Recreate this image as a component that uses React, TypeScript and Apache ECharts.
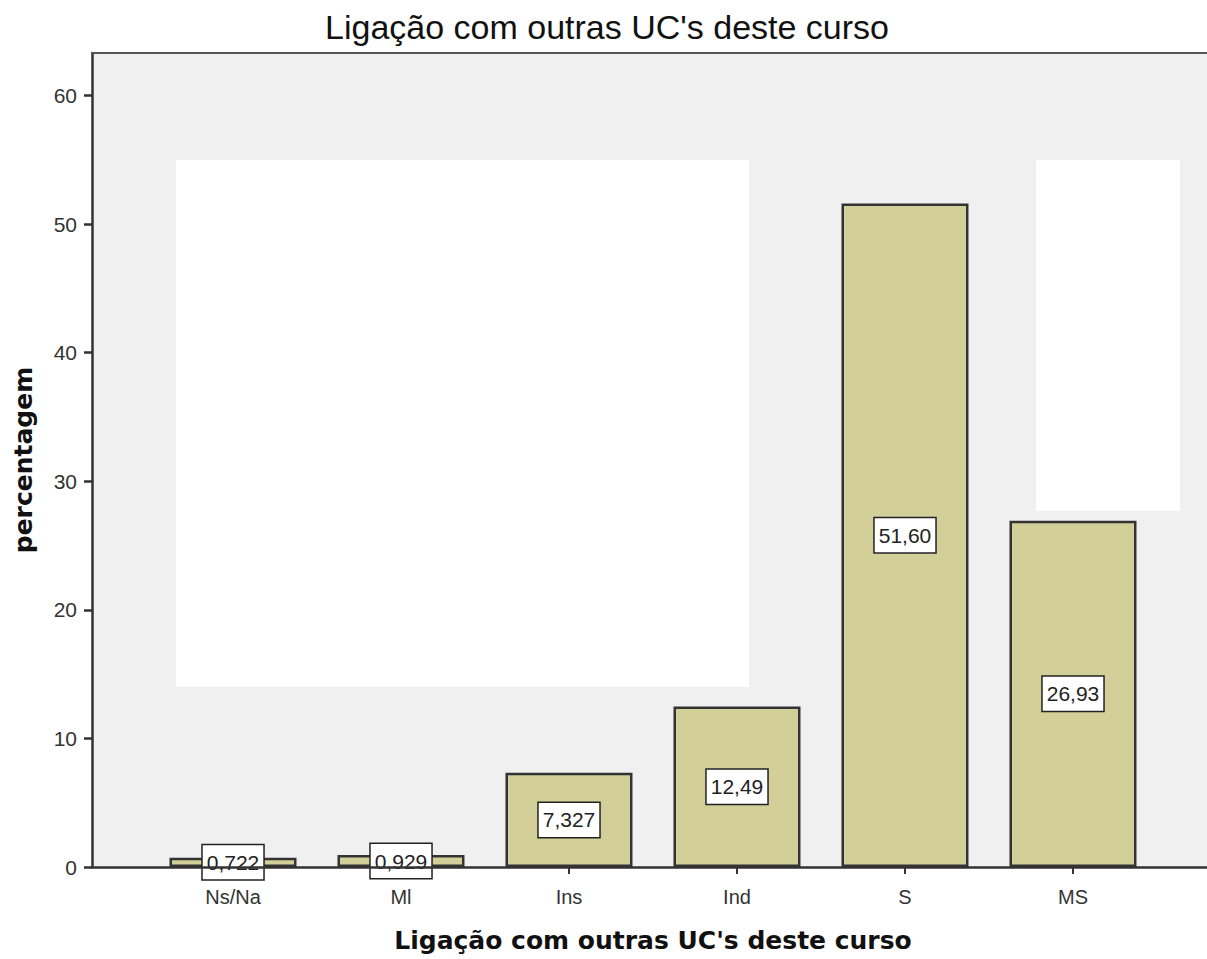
import React, { useEffect, useRef } from "react";
import * as echarts from "echarts";

const categories = ["Ns/Na", "Ml", "Ins", "Ind", "S", "MS"];
const values = [0.722, 0.929, 7.327, 12.49, 51.6, 26.93];
const valueLabels = ["0,722", "0,929", "7,327", "12,49", "51,60", "26,93"];
const yTicks = [0, 10, 20, 30, 40, 50, 60];
const titleText = "Ligação com outras UC's deste curso";
const xName = "Ligação com outras UC's deste curso";
const yName = "percentagem";

export default function App() {
  const ref = useRef<HTMLDivElement>(null);
  useEffect(() => {
    document.body.style.margin = "0";
    const chart = echarts.init(ref.current!, null, { renderer: "svg" });
    const yMax = 63.3;
    chart.setOption({
      animation: false,
      backgroundColor: "#ffffff",
      title: {
        text: titleText,
        left: 602,
        textAlign: "center",
        top: 5,
        textStyle: { fontFamily: "Liberation Sans, Arial", fontWeight: "normal", fontSize: 34, color: "#111" },
      },
      graphic: [
        { type: "rect", z: -20, shape: { x: 92, y: 53, width: 1115, height: 814 }, style: { fill: "#f0f0f0" }, silent: true },
        { type: "rect", z: -10, shape: { x: 176, y: 160, width: 573, height: 527 }, style: { fill: "#ffffff" }, silent: true },
        { type: "rect", z: -10, shape: { x: 1036, y: 160, width: 144, height: 351 }, style: { fill: "#ffffff" }, silent: true },
        { type: "line", z: 10, shape: { x1: 91, y1: 53, x2: 1207, y2: 53 }, style: { stroke: "#555", lineWidth: 2 }, silent: true },
      ],
      grid: [
        { left: 92, right: 0, top: 53, bottom: 92, outerBoundsMode: "none", containLabel: false },
        { left: 149, right: 50, top: 53, bottom: 92, outerBoundsMode: "none", containLabel: false },
      ],
      xAxis: [
        {
          gridIndex: 0,
          type: "value",
          min: 0,
          max: 1,
          z: 5,
          axisLine: { show: true, lineStyle: { color: "#333", width: 2.5 } },
          axisTick: { show: false },
          axisLabel: { show: false },
          splitLine: { show: false },
        },
        {
          gridIndex: 1,
          type: "category",
          data: categories,
          name: xName,
          nameLocation: "middle",
          nameGap: 61,
          nameMoveOverlap: false,
          nameTextStyle: { fontFamily: "DejaVu Sans", fontWeight: "bold", fontSize: 25, color: "#111" },
          axisLine: { show: false },
          axisTick: { show: true, alignWithLabel: true, length: 7, lineStyle: { color: "#333", width: 2 } },
          axisLabel: { fontFamily: "Liberation Sans, Arial", fontSize: 20, color: "#333", margin: 20 },
        },
      ],
      yAxis: [
        {
          gridIndex: 0,
          type: "value",
          min: 0,
          max: yMax,
          z: 5,
          name: yName,
          nameLocation: "middle",
          nameGap: 56,
          nameMoveOverlap: false,
          nameTextStyle: { fontFamily: "DejaVu Sans", fontWeight: "bold", fontSize: 25, color: "#111" },
          axisLine: { show: true, lineStyle: { color: "#333", width: 2.5 } },
          axisTick: { show: true, length: 8, lineStyle: { color: "#333", width: 2.5 }, customValues: yTicks },
          axisLabel: { fontFamily: "Liberation Sans, Arial", fontSize: 21, color: "#333", margin: 15, customValues: yTicks },
          splitLine: { show: false },
        },
        {
          gridIndex: 1,
          type: "value",
          min: 0,
          max: yMax,
          show: false,
          splitLine: { show: false },
        },
      ],
      series: [
        {
          type: "bar",
          xAxisIndex: 1,
          yAxisIndex: 1,
          barWidth: 127,
          data: values,
          itemStyle: { color: "#d3cf98", borderColor: "#333", borderWidth: 2.5 },
          label: {
            show: true,
            position: "inside",
            formatter: (p: any) => valueLabels[p.dataIndex],
            fontFamily: "Liberation Sans, Arial",
            fontSize: 21,
            color: "#222",
            backgroundColor: "#ffffff",
            borderColor: "#222",
            borderWidth: 1.5,
            padding: [7, 4, 6, 4],
          },
        },
      ],
    });
    return () => chart.dispose();
  }, []);
  return <div ref={ref} style={{ width: 1207, height: 959 }} />;
}
